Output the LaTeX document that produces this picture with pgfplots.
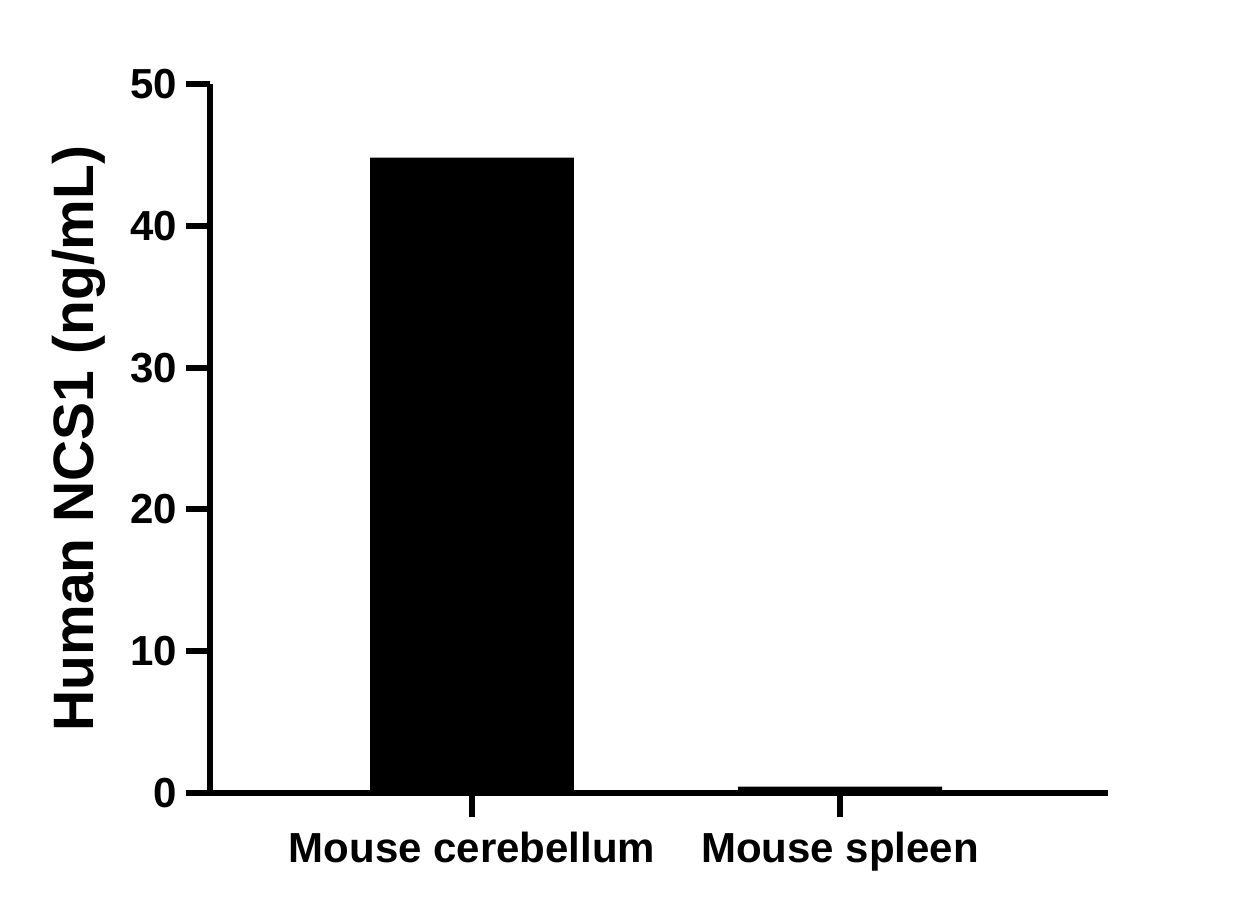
\documentclass[border=0pt]{standalone}
\usepackage{fontspec}
\setmainfont{Liberation Sans}
\usepackage{pgfplots}
\pgfplotsset{compat=1.18}

\begin{document}
\begin{tikzpicture}
  \begin{axis}[
    name=ax,
    scale only axis,
    width=449pt, height=354.5pt,
    xmin=-0.712, xmax=1.728,
    ymin=0, ymax=50,
    axis x line=bottom, axis y line=left,
    axis line style={-, line width=3pt},
    xtick={0,1},
    xticklabels={Mouse cerebellum, Mouse spleen},
    ytick={0,10,20,30,40,50},
    tick align=outside,
    major tick length=12pt,
    tick style={line width=3pt, black},
    ticklabel style={font=\fontsize{21}{24}\selectfont\bfseries},
    /pgf/number format/assume math mode=true,
    xticklabel style={yshift=-4pt},
    yticklabel style={xshift=-1pt},
    ylabel={Human NCS1 (ng/mL)},
    every axis y label/.style={at={([xshift=-52pt]rel axis cs:0,0.5)},
      rotate=90, anchor=south, inner sep=0pt,
      font=\fontsize{28.5}{32}\selectfont\bfseries},
    clip=false,
  ]
    \addplot[ybar, bar width=0.554, fill=black, draw=none] coordinates {
      (0, 44.8)
      (1, 0.45)
    };
  \end{axis}
  \pgfresetboundingbox
  \path ([shift={(-105pt,-58pt)}]ax.south west) rectangle ([shift={(68pt,42pt)}]ax.north east);
\end{tikzpicture}
\end{document}
